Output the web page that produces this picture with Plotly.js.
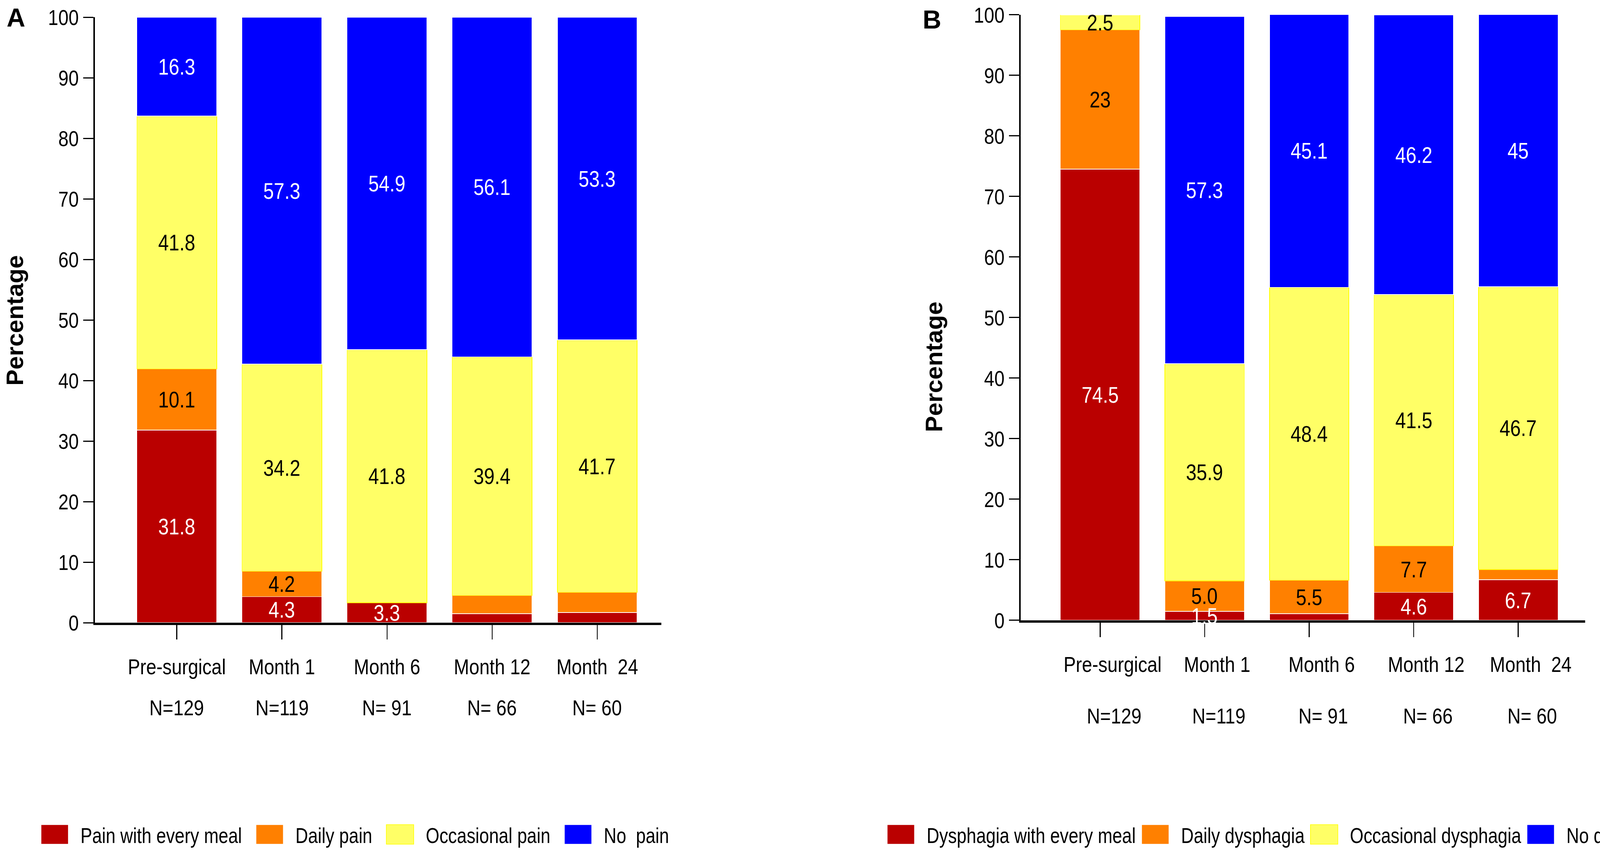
<!DOCTYPE html>
<html>
<head>
<meta charset="utf-8">
<script src="https://cdn.plot.ly/plotly-3.0.1.min.js"></script>
<style>
html, body { margin: 0; padding: 0; background: #fff; }
#chart { width: 4328px; height: 2181px; }
</style>
</head>
<body>
<div id="chart"></div>
<script>
// ---- data ----
const categories = ['Pre-surgical', 'Month 1', 'Month 6', 'Month 12', 'Month\u00a0 24'];
const nLabels = ['N=129', 'N=119', 'N=\u00a091', 'N=\u00a066', 'N=\u00a060'];

// Panel A: pain
const painEveryMeal  = [31.8, 4.3, 3.3, 1.5, 1.7];
const dailyPain      = [10.1, 4.2, 0, 3.0, 3.3];
const occasionalPain = [41.8, 34.2, 41.8, 39.4, 41.7];
const noPain         = [16.3, 57.3, 54.9, 56.1, 53.3];
const painEveryMealText  = ['31.8', '4.3', '3.3', '', ''];
const dailyPainText      = ['10.1', '4.2', '', '', ''];
const occasionalPainText = ['41.8', '34.2', '41.8', '39.4', '41.7'];
const noPainText         = ['16.3', '57.3', '54.9', '56.1', '53.3'];

// Panel B: dysphagia
const dysphagiaEveryMeal  = [74.5, 1.5, 1.1, 4.6, 6.7];
const dailyDysphagia      = [23, 5.0, 5.5, 7.7, 1.7];
const occasionalDysphagia = [2.5, 35.9, 48.4, 41.5, 46.7];
const noDysphagia         = [0, 57.3, 45.1, 46.2, 45];
const dysphagiaEveryMealText  = ['74.5', '1.5', '', '4.6', '6.7'];
const dailyDysphagiaText      = ['23', '5.0', '5.5', '7.7', ''];
const occasionalDysphagiaText = ['2.5', '35.9', '48.4', '41.5', '46.7'];
const noDysphagiaText         = ['', '57.3', '45.1', '46.2', '45'];

const yTicks = [0, 10, 20, 30, 40, 50, 60, 70, 80, 90, 100];

// ---- styles ----
const RED = '#BA0000', ORANGE = '#FF8000', YELLOW = '#FFFF66', BLUE = '#0000FF';
const NARROW = '"Liberation Sans Narrow", "Arial Narrow", "Liberation Sans", Arial, sans-serif';
const BOLD = '"Liberation Sans", Arial, sans-serif';
const FS = 56;

const panels = [
  { xa: 'x', ya: 'y', legend: 'legend', nY: 0.1692, nShift: 0, legendGap: 5,
    series: [
      { name: 'Pain with every meal', v: painEveryMeal, t: painEveryMealText, c: RED, tc: '#fff' },
      { name: 'Daily pain', v: dailyPain, t: dailyPainText, c: ORANGE, tc: '#000' },
      { name: 'Occasional pain', v: occasionalPain, t: occasionalPainText, c: YELLOW, tc: '#000' },
      { name: 'No\u00a0 pain', v: noPain, t: noPainText, c: BLUE, tc: '#fff' }
    ] },
  { xa: 'x2', ya: 'y2', legend: 'legend2', nY: 0.1596, nShift: 36, legendGap: -16,
    series: [
      { name: 'Dysphagia with every meal', v: dysphagiaEveryMeal, t: dysphagiaEveryMealText, c: RED, tc: '#fff' },
      { name: 'Daily dysphagia', v: dailyDysphagia, t: dailyDysphagiaText, c: ORANGE, tc: '#000' },
      { name: 'Occasional dysphagia', v: occasionalDysphagia, t: occasionalDysphagiaText, c: YELLOW, tc: '#000' },
      { name: 'No dysphagia', v: noDysphagia, t: noDysphagiaText, c: BLUE, tc: '#fff' }
    ] }
];

const traces = [];
const annotations = [];
panels.forEach(p => {
  const base = categories.map(() => 0);
  p.series.forEach(s => {
    traces.push({
      type: 'bar', x: categories, y: s.v, name: s.name,
      xaxis: p.xa, yaxis: p.ya, legend: p.legend,
      width: 0.76,
      marker: { color: s.c, line: { color: s.c === YELLOW ? '#FFFF00' : '#ffffff', width: 1.6 } },
      hoverinfo: 'skip'
    });
    categories.forEach((cat, i) => {
      if (s.t[i]) {
        annotations.push({
          xref: p.xa, yref: p.ya, x: cat, y: base[i] + s.v[i] / 2,
          xanchor: 'center', yanchor: 'middle',
          text: s.t[i], showarrow: false,
          font: { family: NARROW, size: 58, color: s.tc }
        });
      }
      base[i] += s.v[i];
    });
  });
  categories.forEach((cat, i) => {
    annotations.push({
      xref: p.xa, yref: 'paper', x: cat, y: p.nY, xshift: p.nShift,
      xanchor: 'center', yanchor: 'middle',
      text: nLabels[i], showarrow: false,
      font: { family: NARROW, size: FS, color: '#000' }
    });
  });
});

// panel letters & y titles
const letterFont = { family: BOLD, size: 66, weight: 'bold', color: '#000' };
const titleFont = { family: BOLD, size: 62, weight: 'bold', color: '#000' };
annotations.push({ xref: 'paper', yref: 'paper', x: 0.0095, y: 0.9794, xanchor: 'center', yanchor: 'middle',
  text: 'A', showarrow: false, font: letterFont });
annotations.push({ xref: 'paper', yref: 'paper', x: 0.5513, y: 0.977, xanchor: 'center', yanchor: 'middle',
  text: 'B', showarrow: false, font: letterFont });
annotations.push({ xref: 'paper', yref: 'paper', x: 0.0086, y: 0.624, xanchor: 'center', yanchor: 'middle',
  text: 'Percentage', textangle: -90, showarrow: false, font: titleFont });
annotations.push({ xref: 'paper', yref: 'paper', x: 0.5525, y: 0.5695, xanchor: 'center', yanchor: 'middle',
  text: 'Percentage', textangle: -90, showarrow: false, font: titleFont });

function yAxis(domain, anchor) {
  return {
    domain: domain, anchor: anchor, range: [0, 100], tickvals: yTicks, ticks: 'outside', ticklen: 26, tickwidth: 3,
    tickcolor: '#000', showline: true, linecolor: '#000', linewidth: 4, showgrid: false, zeroline: false,
    tickfont: { family: NARROW, size: FS, color: '#000' }, fixedrange: true
  };
}
function xAxis(domain, anchor, range, shift) {
  return {
    domain: domain, anchor: anchor, type: 'category', range: range, tickangle: 0,
    ticks: 'outside', ticklen: 37, tickwidth: 2.6, tickcolor: '#000',
    showline: true, linecolor: '#000', linewidth: 6, showgrid: false, zeroline: false,
    ticklabelstandoff: 22, ticklabelshift: shift,
    tickfont: { family: NARROW, size: FS, color: '#000' }, fixedrange: true
  };
}

const legendStyle = (x) => ({
  orientation: 'h', x: x, xanchor: 'left', y: 0.0206, yanchor: 'middle', itemwidth: 122,
  font: { family: NARROW, size: FS, color: '#000' }, bgcolor: 'rgba(0,0,0,0)', traceorder: 'normal'
});

const layout = {
  width: 4328, height: 2181, margin: { l: 0, r: 0, t: 0, b: 0, autoexpand: false },
  paper_bgcolor: '#fff', plot_bgcolor: '#fff', barmode: 'stack', showlegend: true,
  xaxis: xAxis([0.0561, 0.3912], 'y', [-0.78, 4.61], 0),
  yaxis: yAxis([0.2691, 0.9798], 'x'),
  xaxis2: xAxis([0.6037, 0.9376], 'y2', [-0.76, 4.64], 32),
  yaxis2: yAxis([0.2719, 0.9826], 'x2'),
  legend: legendStyle(0.0171),
  legend2: legendStyle(0.5176),
  annotations: annotations
};

const CONDENSE = 0.84, CONDENSE_LEGEND = 0.8;
const gd = document.getElementById('chart');
const ctx = document.createElement('canvas').getContext('2d');
function textWidth(str, size) {
  ctx.font = size + 'px "Liberation Sans", Arial, sans-serif';
  return ctx.measureText(str || '').width;
}
function finish() {
  // the reference uses a narrow face: condense the regular (non-bold) texts
  gd.querySelectorAll('text').forEach(t => {
    const fw = (t.style.fontWeight || '').toString();
    if (fw === 'bold' || fw === '700') return;
    if (t.classList.contains('legendtext')) return;
    const size = parseFloat(t.style.fontSize) || FS;
    const w = textWidth(t.textContent, size);
    if (w > 0) {
      t.setAttribute('textLength', (w * CONDENSE).toFixed(1));
      t.setAttribute('lengthAdjust', 'spacingAndGlyphs');
    }
  });
  // large colour keys and reference-like spacing of the legend entries
  ['legend', 'legend2'].forEach((cls, k) => {
    const lg = gd.querySelector('g.' + cls);
    if (!lg) return;
    const names = panels[k].series.map(s => s.name);
    let x = 0;
    lg.querySelectorAll('g.traces').forEach((it, j) => {
      const m = /translate\(\s*([-\d.e]+)[\s,]*([-\d.e]*)\s*\)/.exec(it.getAttribute('transform') || '');
      const y = m && m[2] ? m[2] : 0;
      it.setAttribute('transform', 'translate(' + x + ',' + y + ')');
      it.querySelectorAll('.legendpoints path').forEach(p => p.setAttribute('d', 'M35,25H-35V-25H35Z'));
      const w = textWidth(names[j] || '', FS) * CONDENSE_LEGEND;
      it.querySelectorAll('text').forEach(t => {
        t.setAttribute('textLength', w.toFixed(1));
        t.setAttribute('lengthAdjust', 'spacingAndGlyphs');
      });
      x += 132 + w + panels[k].legendGap;
    });
    const sb = lg.querySelector('.scrollbox');
    if (sb) sb.removeAttribute('clip-path');
  });
}
Plotly.newPlot(gd, traces, layout, { staticPlot: true, displayModeBar: false }).then(() => {
  finish();
  setTimeout(finish, 200);
});
</script>
</body>
</html>
